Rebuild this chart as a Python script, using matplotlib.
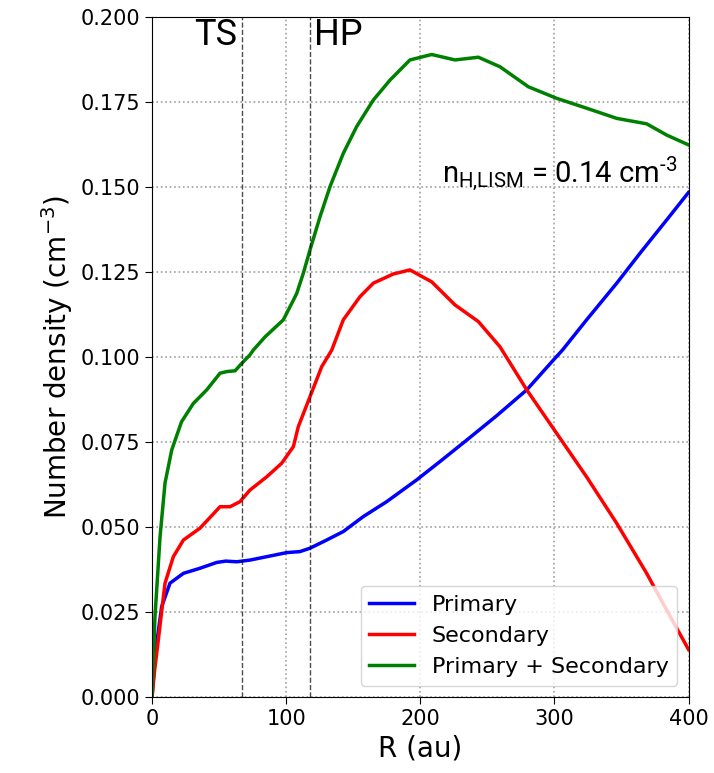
import matplotlib
matplotlib.use("Agg")
import matplotlib.pyplot as plt

plt.rcParams['mathtext.fontset'] = 'custom'
plt.rcParams['mathtext.rm'] = 'Roboto'
plt.rcParams['mathtext.it'] = 'Roboto'

# primary neutral H density
r_pri = [0, 1.5, 3.5, 7.2, 13.4, 23.4, 35.8, 48.2, 55, 63.1, 73, 85.5, 100.4, 110.3,
         117.8, 130.2, 142.6, 157.5, 175, 197.3, 214.7, 234.6, 257, 279.4, 300, 306,
         324, 346.5, 363.8, 383.7, 400]
n_pri = [0, 0.008, 0.0158, 0.0266, 0.0335, 0.0364, 0.0379, 0.0396, 0.0400, 0.0398,
         0.0403, 0.0413, 0.0425, 0.0428, 0.0438, 0.0462, 0.0487, 0.0531, 0.0575, 0.0639,
         0.0693, 0.0756, 0.0828, 0.0904, 0.0995, 0.1021, 0.111, 0.1218, 0.1306, 0.1404,
         0.1485]

# secondary neutral H density
r_sec = [0, 2, 4.7, 9.7, 15.9, 23.4, 35.8, 50.7, 58.2, 65.6, 73, 85.5, 96.7, 105.4,
         109.1, 117.8, 126.5, 134, 142.6, 155, 165, 179.9, 192.3, 208.5, 225.9, 243.3,
         259.4, 279.4, 301.7, 324, 346.5, 368.8, 383.7, 400]
n_sec = [0, 0.008, 0.0168, 0.0335, 0.0413, 0.0462, 0.0497, 0.056, 0.056, 0.0575, 0.0609,
         0.0648, 0.0688, 0.0737, 0.0796, 0.0884, 0.0972, 0.1021, 0.111, 0.1178, 0.1218,
         0.1245, 0.1257, 0.1222, 0.1154, 0.1105, 0.1031, 0.0904, 0.0776, 0.0648, 0.0511,
         0.0364, 0.0256, 0.0140]

# total
r_tot = [0, 2.2, 6, 9.7, 14.7, 22, 30.8, 40.8, 50.7, 56, 61.9, 66.9, 73, 75.5, 84.3,
         97.9, 105.4, 107.9, 112.8, 117.8, 125.3, 132.7, 142.6, 152.6, 165, 177.5, 192.3,
         208.5, 225.9, 243.3, 259.4, 280.6, 301.7, 324, 346.5, 368.8, 383.7, 400]
n_tot = [0, 0.0236, 0.0472, 0.063, 0.0727, 0.081, 0.0864, 0.0904, 0.0953, 0.0958, 0.0960,
         0.0982, 0.1007, 0.1021, 0.106, 0.111, 0.1168, 0.1188, 0.1247, 0.1316, 0.1414,
         0.1502, 0.160, 0.1679, 0.1757, 0.1816, 0.1875, 0.1891, 0.1875, 0.1883, 0.1855,
         0.1796, 0.1762, 0.1733, 0.1703, 0.1687, 0.1654, 0.1625]

# termination shock and heliopause
r_ts = 67
r_hp = 118

fig = plt.figure(figsize=(7.14, 7.73), dpi=100)
ax = fig.add_axes([0.2129, 0.0983, 0.7514, 0.8791])

ax.plot(r_pri, n_pri, color='blue', lw=2.5, label='Primary')
ax.plot(r_sec, n_sec, color='red', lw=2.5, label='Secondary')
ax.plot(r_tot, n_tot, color='green', lw=2.5, label='Primary + Secondary')

ax.axvline(r_ts, color='k', ls='--', lw=1, alpha=0.7)
ax.axvline(r_hp, color='k', ls='--', lw=1, alpha=0.7)

ax.set_xlim(0, 400)
ax.set_ylim(0, 0.2)
ax.set_xticks([0, 100, 200, 300, 400])
ax.set_yticks([0, 0.025, 0.05, 0.075, 0.1, 0.125, 0.15, 0.175, 0.2])
ax.set_yticklabels(['0.000', '0.025', '0.050', '0.075', '0.100', '0.125', '0.150', '0.175', '0.200'])
ax.tick_params(labelsize=15, length=5)
ax.grid(True, ls=':', color='#a0a0a0', lw=1.2)

ax.set_xlabel('R (au)', fontsize=20)
ax.set_ylabel(r'Number density (cm$^{-3}$)', fontsize=20, math_fontfamily='dejavusans')

ax.text(63.5, 0.192, 'TS', fontsize=26, family='Roboto', ha='right', va='baseline')
ax.text(121, 0.192, 'HP', fontsize=26, family='Roboto', ha='left', va='baseline')
ax.text(392, 0.1517, r'n$_{\mathregular{H{,}LISM}}$ = 0.14 cm$^{\mathregular{‐3}}$', fontsize=21,
        family='Roboto', ha='right', va='baseline')

ax.legend(loc='lower right', fontsize=16)

plt.savefig('out.png')
